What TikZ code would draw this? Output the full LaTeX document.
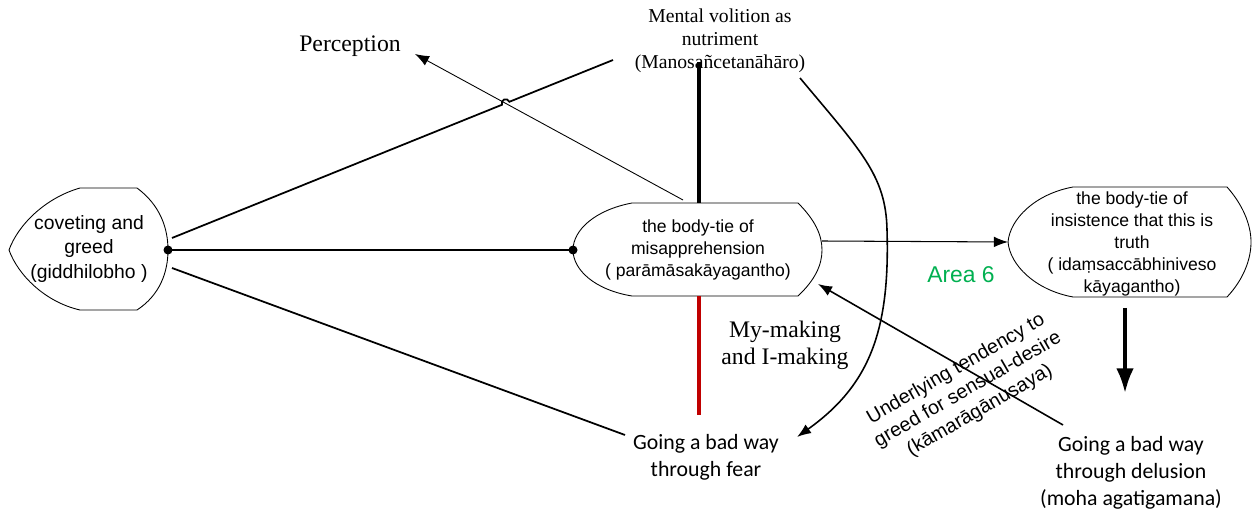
\documentclass[tikz,border=0pt]{standalone}
\usepackage{fontspec}
\setmainfont{Liberation Serif}
\newfontfamily\arialfont{Liberation Sans}
\newfontfamily\calibrifont{Carlito}
\usetikzlibrary{positioning}
\usetikzlibrary{arrows.meta}

\definecolor{areagreen}{RGB}{0,176,80}
\definecolor{darkred}{RGB}{192,0,0}

\begin{document}
\begin{tikzpicture}[x = 0.02cm, y = 0.02cm,
		tie/.style = {align = center, inner sep = 0pt, font = \arialfont\fontsize{10}{12.5}\selectfont},
		note/.style = {align = center, inner sep = 0pt, font = \fontsize{13.5}{15.5}\selectfont},
		way/.style = {align = center, inner sep = 0pt, font = \calibrifont\fontsize{12.4}{15.4}\selectfont},
		outline/.style = {draw, line width = .5pt},
		link/.style = {line width = 1pt},
		>={Latex[length = 8pt, width = 6pt]}]
		\useasboundingbox (0,0) rectangle (1256,510);
		
		% the three ties
		\draw[outline] (80,322) -- (137,322) .. controls (160,305) and (168,282) .. (168,260) .. controls (168,238) and (160,215) .. (137,200) -- (80,200) .. controls (45,208) and (18,235) .. (9,260) .. controls (18,285) and (45,312) .. (80,322) -- cycle;
		\draw[outline] (632,307) -- (798,307) .. controls (815,290) and (822,275) .. (822,260) .. controls (822,245) and (815,230) .. (798,214) -- (632,214) .. controls (595,220) and (573,240) .. (573,260) .. controls (573,280) and (595,300) .. (632,307) -- cycle;
		\draw[outline] (1073,323) -- (1227,323) .. controls (1243,305) and (1251,285) .. (1251,268) .. controls (1251,250) and (1243,230) .. (1227,213) -- (1073,213) .. controls (1035,220) and (1010,245) .. (1008,268) .. controls (1010,291) and (1035,316) .. (1073,323) -- cycle;
		
		\node[tie, font = \arialfont\fontsize{11}{14}\selectfont] (G) at (89,261) {coveting and\\greed\\(giddhilobho )};
		\node[tie] (M) at (698,260) {the body-tie of\\misapprehension\\( parāmāsakāyagantho)};
		\node[tie] (T) at (1132,266) {the body-tie of\\insistence that this is\\truth\\( idaṃsaccābhiniveso\\kāyagantho)};
		
		\node[note] (P) at (350,464) {Perception};
		\node[note, font = \fontsize{11.2}{13}\selectfont] (V) at (720,469) {Mental volition as\\nutriment\\(Manosañcetanāhāro)};
		\node[note] (I) at (785,165) {My-making\\and I-making};
		\node[tie, font = \arialfont\fontsize{13}{15}\selectfont, text = areagreen] (A6) at (961,235) {Area 6};
		\node[way] (F) at (706,53) {Going a bad way\\through fear};
		\node[way] (D) at (1131,37) {Going a bad way\\through delusion\\(moha agatigamana)};
		\node[tie, font = \arialfont\fontsize{11.2}{13.6}\selectfont, rotate = 30] (U) at (968,120) {Underlying tendency to\\greed for sensual-desire\\(kāmarāgānusaya)};
		
		% ends of the connectors
		\coordinate (gdot) at (168,260);
		\coordinate (mdot) at (573,260);
		\coordinate (gup) at (172,272);
		\coordinate (hopA) at (501.9,405.2);
		\coordinate (vend) at (613,450);
		\coordinate (gdown) at (172,242);
		\coordinate (fend) at (625,75);
		\coordinate (mtop) at (683,310);
		\coordinate (ptip) at (415,456);
		\coordinate (vtop) at (699,448);
		\coordinate (mbot) at (699,214);
		\coordinate (ibot) at (699,95);
		\coordinate (vcurve) at (800,432);
		\coordinate (ftip) at (797,73);
		\coordinate (dtail) at (1063,85);
		\coordinate (mtip) at (818,226);
		\coordinate (ttop) at (1125,202);
		\coordinate (tbot) at (1125,117);
		
		\draw[link] (gdot) -- (mdot);
		\node[circle, fill, black, inner sep = 0pt, minimum size = .18cm] at (gdot) {};
		\node[circle, fill, black, inner sep = 0pt, minimum size = .18cm] at (mdot) {};
		\draw[link] (gup) -- (hopA) arc[start angle = 202, end angle = 22, radius = .08cm] -- (vend);
		\draw[link] (gdown) -- (fend);
		
		\draw[->, line width = .5pt] (mtop) -- (ptip);
		\draw[line width = 2pt] (699,307) -- (vtop);
		\draw[line width = 2pt, darkred] (mbot) -- (ibot);
		\draw[->, line width = .6pt] (822,269) -- (1008,268);
		\draw[->, line width = .9pt] (vcurve) .. controls (860,360) and (886,335) .. (887,280) .. controls (890,180) and (870,125) .. (ftip);
		\draw[->, line width = .9pt] (dtail) -- (mtip);
		\draw[-{Latex[length = 14pt, width = 10pt]}, line width = 2pt] (ttop) -- (tbot);
	\end{tikzpicture}
\end{document}
